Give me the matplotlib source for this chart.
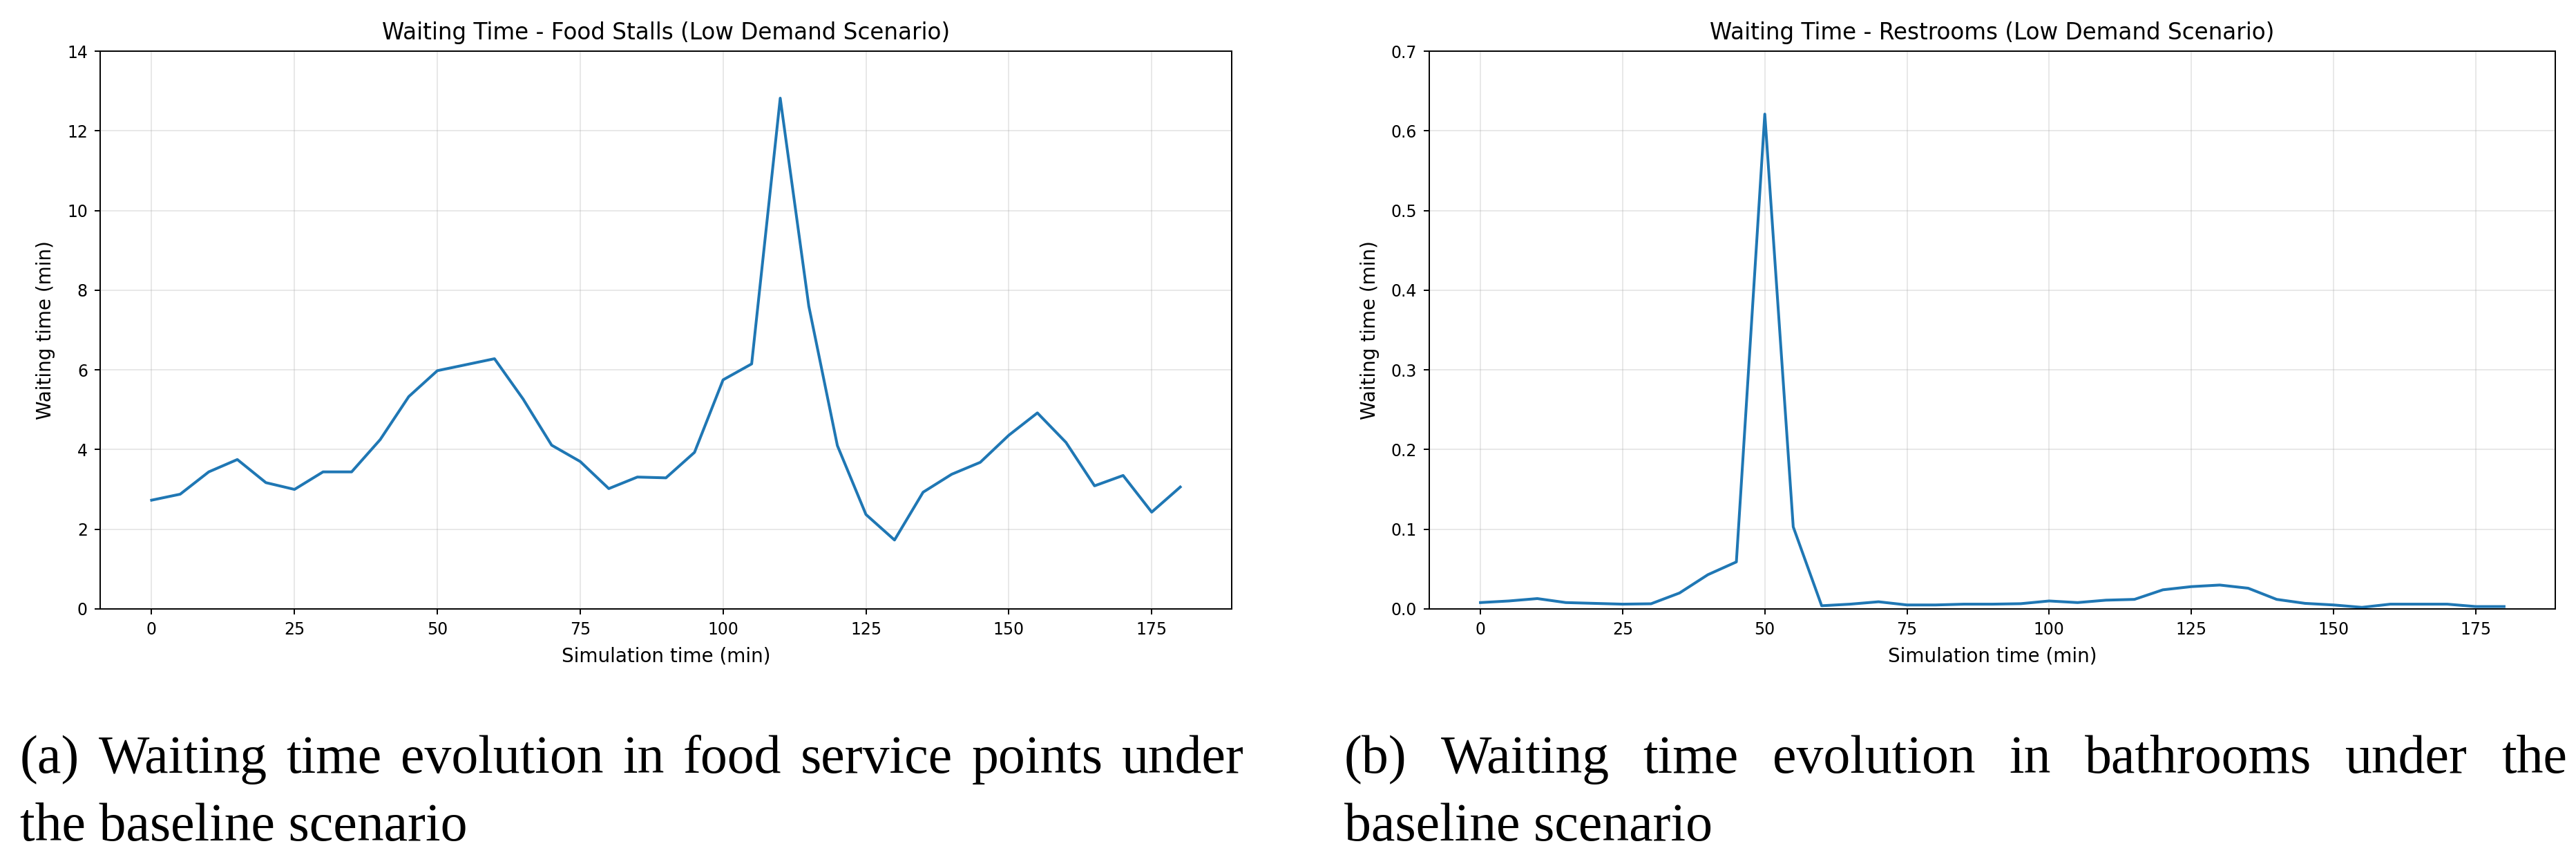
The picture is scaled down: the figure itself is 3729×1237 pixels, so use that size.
import numpy as np
import matplotlib
matplotlib.use("Agg")
import matplotlib.pyplot as plt

# simulation time (min), one sample every 5 min
sim_time = list(range(0, 185, 5))

# waiting time at food stalls (min)
food_wait = [2.73, 2.88, 3.44, 3.75, 3.17, 3.00, 3.44, 3.44, 4.25, 5.33,
             5.98, 6.13, 6.28, 5.27, 4.11, 3.70, 3.02, 3.31, 3.29, 3.93,
             5.75, 6.15, 12.82, 7.60, 4.10, 2.37, 1.73, 2.93, 3.38, 3.68,
             4.36, 4.92, 4.18, 3.09, 3.35, 2.43, 3.06]

# waiting time at restrooms (min)
rest_wait = [0.008, 0.010, 0.013, 0.008, 0.007, 0.006, 0.0065, 0.020, 0.043, 0.059,
             0.621, 0.103, 0.004, 0.006, 0.009, 0.005, 0.005, 0.006, 0.006, 0.0066,
             0.010, 0.008, 0.011, 0.012, 0.024, 0.028, 0.030, 0.026, 0.012, 0.007,
             0.005, 0.002, 0.006, 0.006, 0.006, 0.003, 0.003]

titles = ["Waiting Time - Food Stalls (Low Demand Scenario)",
          "Waiting Time - Restrooms (Low Demand Scenario)"]
captions = [("(a) Waiting time evolution in food service points under", "the baseline scenario"),
            ("(b) Waiting time evolution in bathrooms under the", "baseline scenario")]

W, H = 3730, 1237
fig = plt.figure(figsize=(W / 100, H / 100), dpi=100)

ax_boxes = [(145, 1783), (2069, 3699)]
top, bottom = 74, 881
ylims = [(0, 14), (0, 0.7)]
series = [food_wait, rest_wait]

for i, (x0, x1) in enumerate(ax_boxes):
    ax = fig.add_axes([x0 / W, 1 - bottom / H, (x1 - x0) / W, (bottom - top) / H])
    ax.plot(sim_time, series[i], color="#1f77b4", linewidth=2.9)
    ax.set_ylim(*ylims[i])
    ax.set_xticks([0, 25, 50, 75, 100, 125, 150, 175])
    ax.grid(True, color="#b0b0b0", alpha=0.35, linewidth=1.2)
    ax.tick_params(labelsize=17, length=6, width=1.4, pad=7)
    for s in ax.spines.values():
        s.set_linewidth(1.4)
    ax.set_title(titles[i], fontsize=23.5, pad=12)
    ax.set_xlabel("Simulation time (min)", fontsize=20, labelpad=9)
    ax.set_ylabel("Waiting time (min)", fontsize=20, labelpad=12)

# captions below the panels, first line justified to the panel width
cap_spans = [(29, 1801), (1946, 3716)]
line1_y = 1 - 1118 / H
line2_y = 1 - 1216 / H
cap_font = dict(family="Liberation Serif", fontsize=56)

renderer = fig.canvas.get_renderer()
for (l, r), (first, second) in zip(cap_spans, captions):
    words = first.split()
    txts = [fig.text(0, line1_y, w, va="baseline", ha="left", **cap_font) for w in words]
    widths = [t.get_window_extent(renderer).width for t in txts]
    gap = ((r - l) - sum(widths)) / (len(words) - 1)
    x = l
    for t, w in zip(txts, widths):
        t.set_x(x / W)
        x += w + gap
    fig.text(l / W, line2_y, second, va="baseline", ha="left", **cap_font)

fig.savefig("out.png", dpi=100)
